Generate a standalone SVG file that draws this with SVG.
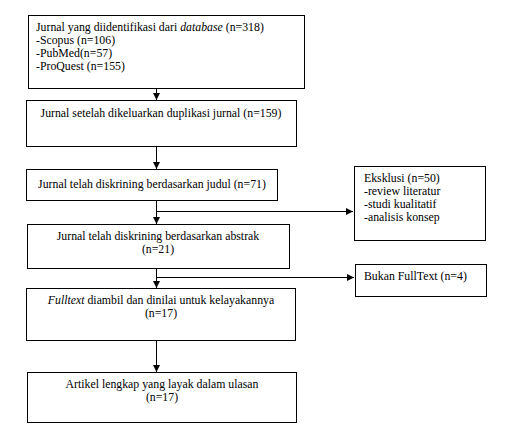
<svg xmlns="http://www.w3.org/2000/svg" width="505" height="436" viewBox="0 0 505 436">
<style>
.box{fill:#fff;stroke:#000;stroke-width:1}
.t{font-family:"Liberation Serif",serif;font-size:11.8px;fill:#000}
.c{text-anchor:middle}
.ln{stroke:#000;stroke-width:1;fill:none}
</style>
<defs>
<marker id="ah" markerWidth="8" markerHeight="8" refX="7" refY="4" orient="auto" markerUnits="userSpaceOnUse">
<path d="M0,0.5 L7,4 L0,7.5 Z" fill="#000"/>
</marker>
</defs>
<rect width="505" height="436" fill="#fff"/>
<g id="connectors">
<line class="ln" x1="156.5" y1="88" x2="156.5" y2="100" marker-end="url(#ah)"/>
<line class="ln" x1="156.5" y1="146" x2="156.5" y2="169" marker-end="url(#ah)"/>
<line class="ln" x1="156.5" y1="200" x2="156.5" y2="224" marker-end="url(#ah)"/>
<line class="ln" x1="156.5" y1="211.5" x2="353" y2="211.5" marker-end="url(#ah)"/>
<line class="ln" x1="156.5" y1="268" x2="156.5" y2="288" marker-end="url(#ah)"/>
<line class="ln" x1="156.5" y1="277.5" x2="354" y2="277.5" marker-end="url(#ah)"/>
<line class="ln" x1="156.5" y1="340" x2="156.5" y2="372" marker-end="url(#ah)"/>
</g>
<g id="n1">
<rect class="box" x="28.5" y="15.5" width="276" height="73"/>
<text class="t" x="36" y="31">Jurnal yang diidentifikasi dari <tspan font-style="italic">database</tspan> (n=318)</text>
<text class="t" x="36" y="44">-Scopus (n=106)</text>
<text class="t" x="36" y="57">-PubMed(n=57)</text>
<text class="t" x="36" y="70">-ProQuest (n=155)</text>
</g>
<g id="n2">
<rect class="box" x="26.5" y="100.5" width="270" height="46"/>
<text class="t c" x="161" y="117">Jurnal setelah dikeluarkan duplikasi jurnal (n=159)</text>
</g>
<g id="n3">
<rect class="box" x="26.5" y="169.5" width="251" height="31"/>
<text class="t c" x="152" y="188">Jurnal telah diskrining berdasarkan judul (n=71)</text>
</g>
<g id="n4">
<rect class="box" x="27.5" y="224.5" width="262" height="44"/>
<text class="t c" x="158" y="240">Jurnal telah diskrining berdasarkan abstrak</text>
<text class="t c" x="158" y="253">(n=21)</text>
</g>
<g id="n5">
<rect class="box" x="26.5" y="288.5" width="269" height="52"/>
<text class="t c" x="161" y="304"><tspan font-style="italic">Fulltext</tspan> diambil dan dinilai untuk kelayakannya</text>
<text class="t c" x="161" y="317">(n=17)</text>
</g>
<g id="n6">
<rect class="box" x="27.5" y="372.5" width="269" height="50"/>
<text class="t c" x="162" y="388">Artikel lengkap yang layak dalam ulasan</text>
<text class="t c" x="162" y="401">(n=17)</text>
</g>
<g id="n7">
<rect class="box" x="354.5" y="166.5" width="131" height="74"/>
<text class="t" x="364" y="182">Eksklusi (n=50)</text>
<text class="t" x="364" y="195">-review literatur</text>
<text class="t" x="364" y="208">-studi kualitatif</text>
<text class="t" x="364" y="221">-analisis konsep</text>
</g>
<g id="n8">
<rect class="box" x="355.5" y="264.5" width="131" height="32"/>
<text class="t" x="364" y="280">Bukan FullText (n=4)</text>
</g>
</svg>
